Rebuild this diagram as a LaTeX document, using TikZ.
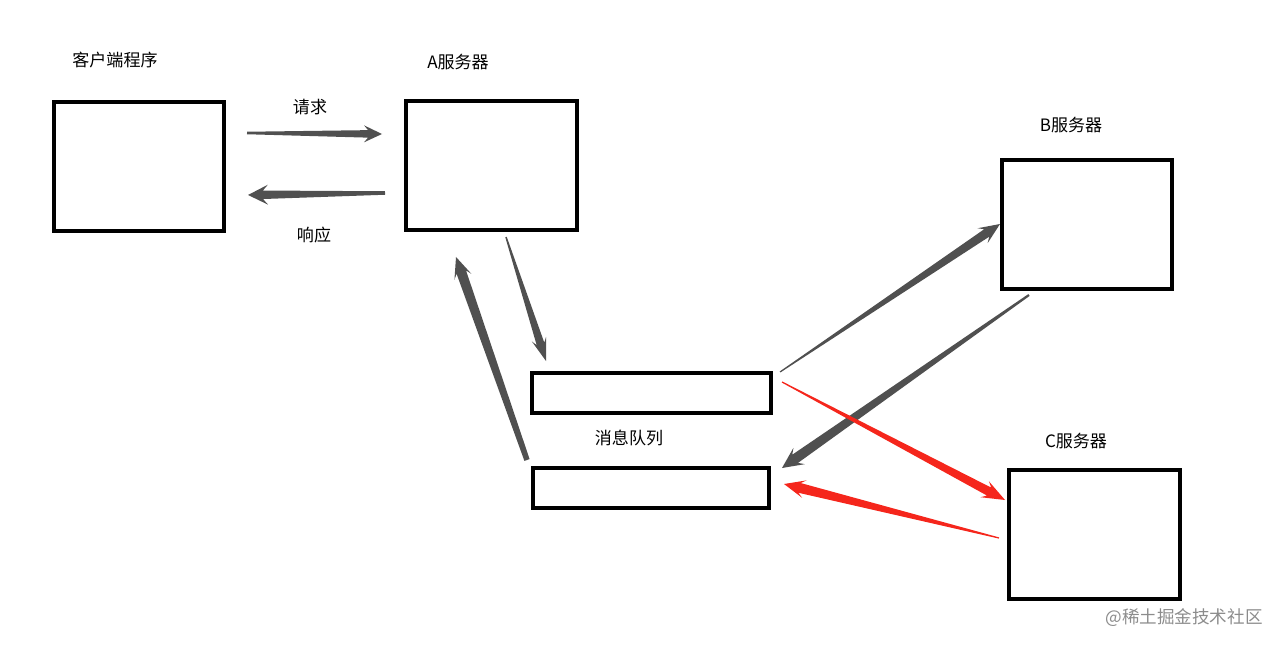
\documentclass[tikz,border=0pt]{standalone}
\usepackage{fontspec}
\setmainfont{Noto Sans CJK SC}
\usetikzlibrary{calc}
\definecolor{arrgray}{RGB}{80,80,80}
\definecolor{arrred}{RGB}{245,38,28}
\tikzset{
  box/.style={draw=black, line width=1.8pt, inner sep=0pt},
  lbl/.style={font=\fontsize{9.7}{11}\selectfont, text=black, inner sep=0pt},
  wm/.style={font=\fontsize{10}{12}\selectfont, text=black!45, inner sep=0pt}
}
% #1 colour, #2 from, #3 to, #4 tail half width, #5 shaft-end half width, #6 head half width, #7 head length, #8 shaft joins head at
\newcommand\taperarrow[8]{%
  \coordinate (taC) at ($(#3)!#7!(#2)$);
  \coordinate (taD) at ($(#3)!#8!(#2)$);
  \fill[#1] ($(#2)!#4!90:(#3)$) -- ($(taD)!#5!90:(#3)$) -- ($(taC)!#6!90:(#3)$) -- (#3)
    -- ($(taC)!#6!-90:(#3)$) -- ($(taD)!#5!-90:(#3)$) -- ($(#2)!#4!-90:(#3)$) -- cycle;
}
\begin{document}
\begin{tikzpicture}[x=0.02cm, y=-0.02cm]
\useasboundingbox (0,0) rectangle (1283,648);
% boxes
\node[box, minimum width=3.4cm, minimum height=2.58cm] (client) at (139,166.5) {};
\node[box, minimum width=3.42cm, minimum height=2.58cm] (srvA) at (491.5,165.5) {};
\node[box, minimum width=3.4cm, minimum height=2.58cm] (srvB) at (1087,224.5) {};
\node[box, minimum width=3.42cm, minimum height=2.58cm] (srvC) at (1094.5,534.5) {};
\node[box, minimum width=4.78cm, minimum height=0.8cm] (mq1) at (651.5,393) {};
\node[box, minimum width=4.72cm, minimum height=0.8cm] (mq2) at (651,488) {};
% labels
\node[lbl] (lclient) at (115,60) {客户端程序};
\node[lbl] (lA) at (458,62) {A服务器};
\node[lbl] (lreq) at (310,107) {请求};
\node[lbl] (lresp) at (314,235) {响应};
\node[lbl] (lB) at (1071,125) {B服务器};
\node[lbl] (lC) at (1076,441) {C服务器};
\node[lbl] (lmq) at (629,438) {消息队列};
\node[wm] (wmark) at (1184,618) {@稀土掘金技术社区};
% connector end points
\coordinate (reqS) at (247,133);  \coordinate (reqE) at (382,134);
\coordinate (resS) at (385,193);  \coordinate (resE) at (248,195);
\coordinate (amqS) at (506,237);  \coordinate (amqE) at (546,361);
\coordinate (mqaS) at (527,460);  \coordinate (mqaE) at (456,257);
\coordinate (mqbS) at (780,372);  \coordinate (mqbE) at (1000,224);
\coordinate (bmqS) at (1029,295); \coordinate (bmqE) at (782,468);
\coordinate (mqcS) at (782,382);  \coordinate (mqcE) at (1005,500);
\coordinate (cmqS) at (999,538);  \coordinate (cmqE) at (784,484);
% connectors
\taperarrow{arrgray}{reqS}{reqE}{0.025cm}{0.075cm}{0.17cm}{0.36cm}{0.28cm}
\taperarrow{arrgray}{resS}{resE}{0.035cm}{0.085cm}{0.2cm}{0.40cm}{0.30cm}
\taperarrow{arrgray}{amqS}{amqE}{0.015cm}{0.08cm}{0.15cm}{0.46cm}{0.36cm}
\taperarrow{arrgray}{mqaS}{mqaE}{0.055cm}{0.1cm}{0.18cm}{0.42cm}{0.32cm}
\taperarrow{arrgray}{mqbS}{mqbE}{0.012cm}{0.09cm}{0.18cm}{0.42cm}{0.32cm}
\taperarrow{arrgray}{bmqS}{bmqE}{0.022cm}{0.1cm}{0.2cm}{0.42cm}{0.32cm}
\taperarrow{arrred}{mqcS}{mqcE}{0.012cm}{0.09cm}{0.18cm}{0.46cm}{0.36cm}
\taperarrow{arrred}{cmqS}{cmqE}{0.012cm}{0.1cm}{0.18cm}{0.42cm}{0.32cm}
\end{tikzpicture}
\end{document}
